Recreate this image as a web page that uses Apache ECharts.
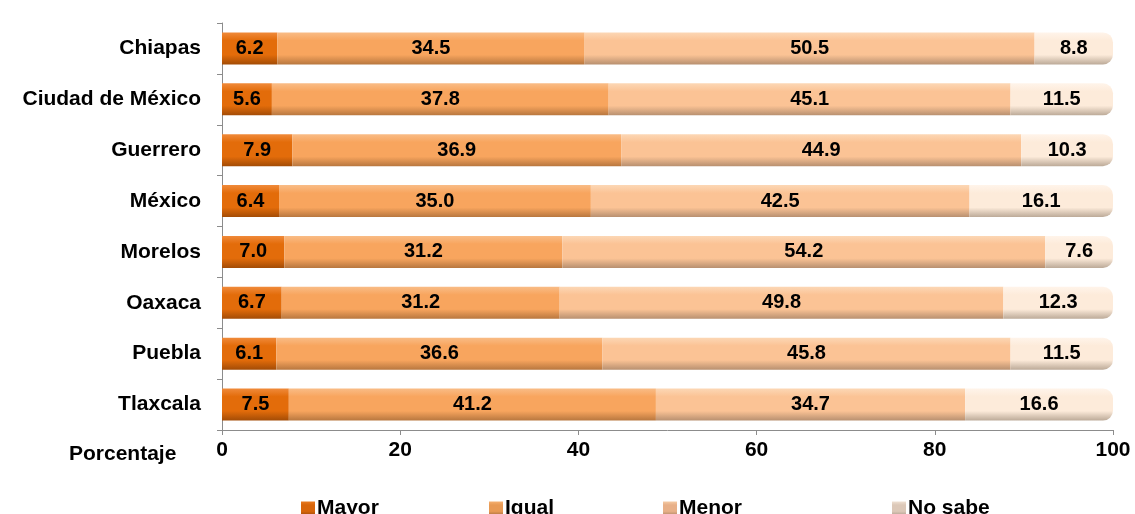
<!DOCTYPE html>
<html><head><meta charset="utf-8">
<script src="https://cdn.jsdelivr.net/npm/echarts@6/dist/echarts.min.js"></script>
<style>html,body{margin:0;padding:0;background:#fff}#c{width:1135px;height:514px}</style>
</head><body><div id="c"></div>
<script>
const categories = ['Chiapas','Ciudad de México','Guerrero','México','Morelos','Oaxaca','Puebla','Tlaxcala'];
const mayor  = [6.2, 5.6, 7.9, 6.4, 7.0, 6.7, 6.1, 7.5];
const igual  = [34.5, 37.8, 36.9, 35.0, 31.2, 31.2, 36.6, 41.2];
const menor  = [50.5, 45.1, 44.9, 42.5, 54.2, 49.8, 45.8, 34.7];
const noSabe = [8.8, 11.5, 10.3, 16.1, 7.6, 12.3, 11.5, 16.6];
const xTicks = [0, 20, 40, 60, 80, 100];
const seriesNames = ['Mayor','Igual','Menor','No sabe'];

function grad(top, mid, bot){
  return new echarts.graphic.LinearGradient(0,0,0,1,[
    {offset:0,color:top},{offset:0.25,color:mid},{offset:0.7,color:mid},{offset:1,color:bot}]);
}
const colors = [
  grad('#F08A3A','#E36C0A','#A34C06'),
  grad('#F9BC86','#F8A55E','#B8773F'),
  grad('#FCD7B5','#FBC395','#B89070'),
  grad('#FFF4EA','#FDEBDA','#BCAA98')
];
const legendColors = [
  grad('#E87A20','#D8650A','#9C4A0A'),
  grad('#F5B070','#E89A55','#A87040'),
  grad('#F5CBA5','#E8B088','#B08868'),
  grad('#EFE0D2','#DCC8B8','#B0A090')
];
const data = [mayor, igual, menor, noSabe];
const chart = echarts.init(document.getElementById('c'));
const font = 'Liberation Sans, Arial, sans-serif';
const legendLefts = [296, 484, 658, 887];
chart.setOption({
  animation:false,
  grid:{left:222,right:22,top:23,bottom:84,containLabel:false},
  xAxis:{type:'value',min:0,max:100,interval:20,
    axisLine:{show:true,lineStyle:{color:'#8c8c8c'}},
    axisTick:{show:true,length:5,lineStyle:{color:'#8c8c8c'}},
    splitLine:{show:false},
    axisLabel:{color:'#000',fontFamily:font,fontWeight:'bold',fontSize:21,margin:10,
      formatter:v=>xTicks.includes(v)?String(v):''}},
  yAxis:{type:'category',data:categories,inverse:true,
    axisLine:{show:true,lineStyle:{color:'#8c8c8c'}},
    axisTick:{show:true,length:5,lineStyle:{color:'#8c8c8c'}},
    axisLabel:{color:'#000',fontFamily:font,fontWeight:'bold',fontSize:21,margin:21}},
  legend: seriesNames.map((n,i)=>({data:[n],left:legendLefts[i],top:493,itemWidth:14,itemHeight:14,itemGap:0,
    icon:'rect',itemStyle:{color:legendColors[i]},
    textStyle:{fontFamily:font,fontWeight:'bold',fontSize:21,color:'#000',padding:[0,0,0,-3]}})),
  graphic:[{type:'text',left:69,top:444,style:{text:'Porcentaje',font:'bold 21px Liberation Sans, Arial, sans-serif',fill:'#000'}}],
  series: seriesNames.map((n,i)=>({
    name:n,type:'bar',stack:'t',barWidth:32,data:data[i],
    itemStyle:{color:colors[i],borderRadius:i===3?[0,10,10,0]:0},
    label:{show:true,position:'inside',formatter:p=>p.value.toFixed(1),
      color:'#000',fontFamily:font,fontWeight:'bold',fontSize:20}
  }))
});
</script></body></html>
